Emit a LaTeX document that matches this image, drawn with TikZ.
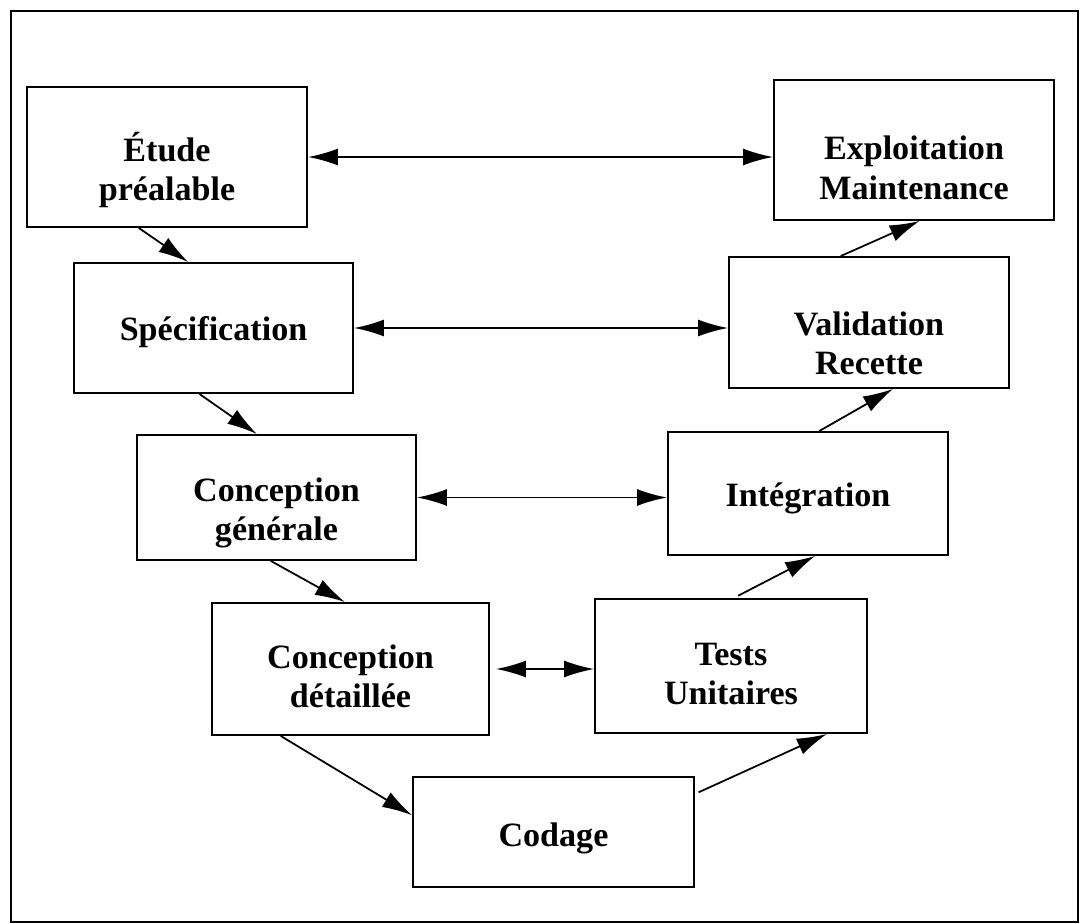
\documentclass[tikz,border=0pt]{standalone}
\usepackage{fontspec}
\setmainfont{Liberation Serif}
\usepackage{tikz}
\usetikzlibrary{arrows.meta, positioning, calc}
\tikzset{
  vm/frame/.style={draw=black, line width=1.1pt},
  vm/box/.style={rectangle, draw=black, fill=white, line width=1.1pt,
    align=center, inner sep=2pt, text depth=0pt,
    font=\fontsize{19.4}{22.4}\selectfont\bfseries},
  vm/low/.style={text height=#1},
  vm/arr/.style={-{Latex[length=6mm,width=3.4mm]}, line width=1pt},
  vm/dbl/.style={{Latex[length=6mm,width=3.4mm]}-{Latex[length=6mm,width=3.4mm]},
    line width=1pt}
}
\begin{document}
\begin{tikzpicture}
    \useasboundingbox (0,0) rectangle (21.62,-18.48);
    \draw[vm/frame] (0.22,-0.22) rectangle (21.56,-18.44);

    \node[vm/box, vm/low=50pt, minimum width=5.6cm, minimum height=2.8cm] (etude) at (3.34,-3.14) {Étude\\préalable};
    \node[vm/box, vm/low=14.5pt, minimum width=5.58cm, minimum height=2.6cm] (spec) at (4.27,-6.56) {Spécification};
    \node[vm/box, vm/low=49pt, minimum width=5.58cm, minimum height=2.5cm] (cgen) at (5.53,-9.95) {Conception\\générale};
    \node[vm/box, vm/low=44pt, minimum width=5.54cm, minimum height=2.64cm] (cdet) at (7.01,-13.38) {Conception\\détaillée};
    \node[vm/box, vm/low=16.5pt, minimum width=5.62cm, minimum height=2.2cm] (codage) at (11.07,-16.64) {Codage};
    \node[vm/box, vm/low=44pt, minimum width=5.44cm, minimum height=2.68cm] (tests) at (14.62,-13.32) {Tests\\Unitaires};
    \node[vm/box, vm/low=15pt, minimum width=5.6cm, minimum height=2.46cm] (integ) at (16.16,-9.87) {Intégration};
    \node[vm/box, vm/low=59.5pt, minimum width=5.6cm, minimum height=2.62cm] (valid) at (17.38,-6.45) {Validation\\Recette};
    \node[vm/box, vm/low=56pt, minimum width=5.6cm, minimum height=2.8cm] (exploit) at (18.28,-3.0) {Exploitation\\Maintenance};

    \draw[vm/arr] ($(etude.south west)!0.40!(etude.south east)$) -- ($(spec.north west)!0.41!(spec.north east)$);
    \draw[vm/arr] ($(spec.south west)!0.45!(spec.south east)$) -- ($(cgen.north west)!0.43!(cgen.north east)$);
    \draw[vm/arr] ($(cgen.south west)!0.48!(cgen.south east)$) -- ($(cdet.north west)!0.48!(cdet.north east)$);
    \draw[vm/arr] ($(cdet.south west)!0.25!(cdet.south east)$) -- ($(codage.north west)!0.35!(codage.south west)$);
    \draw[vm/arr, shorten <=0.08cm] ($(codage.north east)!0.16!(codage.south east)$) -- ($(tests.south west)!0.85!(tests.south east)$);
    \draw[vm/arr, shorten <=0.1cm] ($(tests.north west)!0.51!(tests.north east)$) -- ($(integ.south west)!0.525!(integ.south east)$);
    \draw[vm/arr] ($(integ.north west)!0.54!(integ.north east)$) -- ($(valid.south west)!0.585!(valid.south east)$);
    \draw[vm/arr] ($(valid.north west)!0.40!(valid.north east)$) -- ($(exploit.south west)!0.52!(exploit.south east)$);

    \draw[vm/dbl] (etude.east) -- (etude.east -| exploit.west);
    \draw[vm/dbl] (spec.east) -- (spec.east -| valid.west);
    \draw[vm/dbl] (cgen.east) -- (cgen.east -| integ.west);
    \draw[vm/dbl, shorten <=0.12cm] (cdet.east) -- (cdet.east -| tests.west);
\end{tikzpicture}
\end{document}
